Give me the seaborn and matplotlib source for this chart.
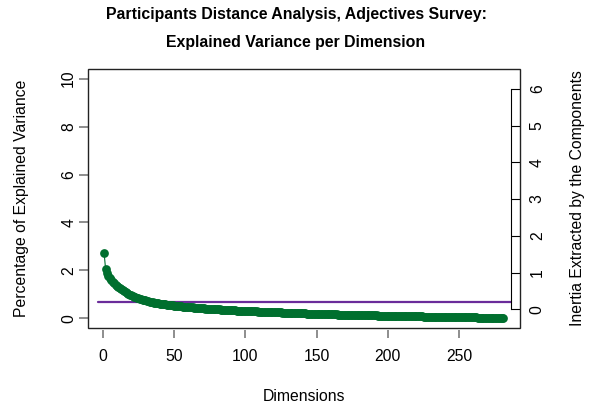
import matplotlib
matplotlib.use("Agg")
import matplotlib.pyplot as plt
from matplotlib.patches import Rectangle
import seaborn as sns
import pandas as pd

# percentage of explained variance per dimension
pct_explained = [
    2.72, 2.08, 1.90, 1.78, 1.68, 1.60, 1.53, 1.47, 1.41, 1.36,
    1.31, 1.26, 1.21, 1.17, 1.13, 1.09, 1.05, 1.02, 0.99, 0.96,
    0.93, 0.91, 0.88, 0.86, 0.84, 0.82, 0.80, 0.78, 0.76, 0.75,
    0.73, 0.72, 0.70, 0.69, 0.68, 0.66, 0.65, 0.64, 0.63, 0.62,
    0.61, 0.60, 0.59, 0.58, 0.57, 0.565, 0.555, 0.545, 0.54, 0.53,
    0.524, 0.518, 0.512, 0.506, 0.50, 0.494, 0.488, 0.482, 0.476, 0.47,
    0.465, 0.46, 0.455, 0.45, 0.445, 0.44, 0.435, 0.43, 0.425, 0.42,
    0.416, 0.412, 0.408, 0.404, 0.40, 0.396, 0.392, 0.388, 0.384, 0.38,
    0.376, 0.372, 0.368, 0.364, 0.36, 0.356, 0.352, 0.348, 0.344, 0.34,
    0.337, 0.334, 0.331, 0.328, 0.325, 0.322, 0.319, 0.316, 0.313, 0.31,
    0.307, 0.305, 0.302, 0.30, 0.297, 0.295, 0.292, 0.29, 0.287, 0.285,
    0.282, 0.28, 0.277, 0.275, 0.272, 0.27, 0.267, 0.265, 0.262, 0.26,
    0.257, 0.255, 0.252, 0.25, 0.247, 0.245, 0.242, 0.24, 0.237, 0.235,
    0.232, 0.23, 0.227, 0.225, 0.222, 0.22, 0.217, 0.215, 0.212, 0.21,
    0.208, 0.206, 0.204, 0.202, 0.20, 0.198, 0.196, 0.194, 0.192, 0.19,
    0.188, 0.186, 0.184, 0.182, 0.18, 0.178, 0.176, 0.174, 0.172, 0.17,
    0.168, 0.167, 0.165, 0.164, 0.162, 0.161, 0.159, 0.158, 0.156, 0.155,
    0.153, 0.152, 0.15, 0.149, 0.147, 0.146, 0.144, 0.143, 0.141, 0.14,
    0.138, 0.137, 0.135, 0.134, 0.132, 0.131, 0.129, 0.128, 0.126, 0.125,
    0.123, 0.122, 0.12, 0.119, 0.117, 0.116, 0.114, 0.113, 0.111, 0.11,
    0.109, 0.107, 0.106, 0.105, 0.104, 0.102, 0.101, 0.10, 0.099, 0.097,
    0.096, 0.095, 0.094, 0.092, 0.091, 0.09, 0.089, 0.087, 0.086, 0.085,
    0.084, 0.082, 0.081, 0.08, 0.079, 0.077, 0.076, 0.075, 0.074, 0.072,
    0.071, 0.07, 0.069, 0.067, 0.066, 0.065, 0.064, 0.062, 0.061, 0.06,
    0.059, 0.058, 0.057, 0.056, 0.055, 0.054, 0.053, 0.052, 0.051, 0.05,
    0.049, 0.048, 0.047, 0.046, 0.045, 0.044, 0.043, 0.042, 0.041, 0.04,
    0.039, 0.038, 0.037, 0.036, 0.035, 0.033, 0.032, 0.031, 0.03, 0.028,
    0.027, 0.026, 0.024, 0.023, 0.021, 0.02, 0.018, 0.016, 0.014, 0.012, 0.01,
]
dimensions = list(range(1, len(pct_explained) + 1))

# mean inertia (Kaiser line), on the right-hand inertia axis
kaiser_inertia = 0.19

x_ticks = [0, 50, 100, 150, 200, 250]
left_ticks = [0, 2, 4, 6, 8, 10]
right_ticks = [0, 1, 2, 3, 4, 5, 6]

title = "Participants Distance Analysis, Adjectives Survey:\nExplained Variance per Dimension"
x_label = "Dimensions"
left_label = "Percentage of Explained Variance"
right_label = "Inertia Extracted by the Components"

GREEN = "#006F2E"
PURPLE = "#6A2C9A"
TICK_GREY = "#7A7A7A"
FS = 11.3

sns.set_theme(style="ticks")
plt.rcParams["font.family"] = ["Liberation Sans", "DejaVu Sans"]
plt.rcParams["text.color"] = "black"
plt.rcParams["axes.labelcolor"] = "black"
plt.rcParams["xtick.labelcolor"] = "black"
plt.rcParams["ytick.labelcolor"] = "black"

W, H = 592, 404
fig = plt.figure(figsize=(W / 100, H / 100), dpi=100)
ax = fig.add_axes([88 / W, 1 - 328 / H, 432 / W, 259 / H])

df = pd.DataFrame({"dim": dimensions, "pct": pct_explained})
sns.lineplot(data=df, x="dim", y="pct", ax=ax, color=GREEN, lw=0.8,
             marker="o", markersize=6.3, markeredgewidth=0, zorder=4)

ax.set_xlim(-10.3, 292.6)
ax.set_ylim(-0.4, 10.4)
ax.set_xticks(x_ticks)
ax.set_yticks(left_ticks)
for s in ax.spines.values():
    s.set_visible(False)
ax.spines["bottom"].set_position(("outward", 1.5))
ax.tick_params(axis="x", direction="out", length=5.8, width=1.2, color=TICK_GREY,
               labelsize=FS, labelcolor="black", pad=8)
ax.tick_params(axis="y", direction="out", length=6.5, width=1.2, color=TICK_GREY,
               labelsize=FS, labelcolor="black", pad=2)
for lab in ax.get_yticklabels():
    lab.set_rotation(90)
    lab.set_va("center")
ax.add_patch(Rectangle((0, 0), 1, 1, transform=ax.transAxes, fill=False,
                       ec="#222222", lw=1.0, clip_on=False, zorder=5))

ax.set_xlabel(x_label, fontsize=FS, color="black")
ax.xaxis.set_label_coords(0.5, -0.266)
ax.xaxis.label.set_va("center")
ax.set_ylabel(left_label, fontsize=FS, color="black")
ax.yaxis.set_label_coords(-0.153, 0.5)
ax.yaxis.label.set_va("center")

# right-hand inertia axis
ax2 = ax.twinx()
ax2.set_ylim(-0.51, 6.54)
ax2.set_yticks(right_ticks)
for k in ["top", "bottom", "left"]:
    ax2.spines[k].set_visible(False)
ax2.spines["right"].set_position(("axes", 423 / 432))
ax2.spines["right"].set_bounds(0, 6)
ax2.spines["right"].set_color("black")
ax2.spines["right"].set_linewidth(0.8)
ax2.tick_params(axis="y", direction="out", length=6.5, width=0.8, color="black",
                labelsize=FS, labelcolor="black", pad=7)
for lab in ax2.get_yticklabels():
    lab.set_rotation(90)
    lab.set_va("center")
ax2.axhline(kaiser_inertia, xmin=10 / 432, xmax=423 / 432, color=PURPLE, lw=1.6, zorder=1)
ax.set_zorder(ax2.get_zorder() + 1)
ax.patch.set_visible(False)

ax2.set_ylabel(right_label, fontsize=FS, color="black")
ax2.yaxis.set_label_coords(1.134, 0.5)
ax2.yaxis.label.set_va("center")

fig.text(0.5, 1 - 28.5 / H, title, ha="center", va="center", fontsize=11.4,
         fontweight="bold", linespacing=2.05, color="black")

fig.savefig("out.png", dpi=100)
